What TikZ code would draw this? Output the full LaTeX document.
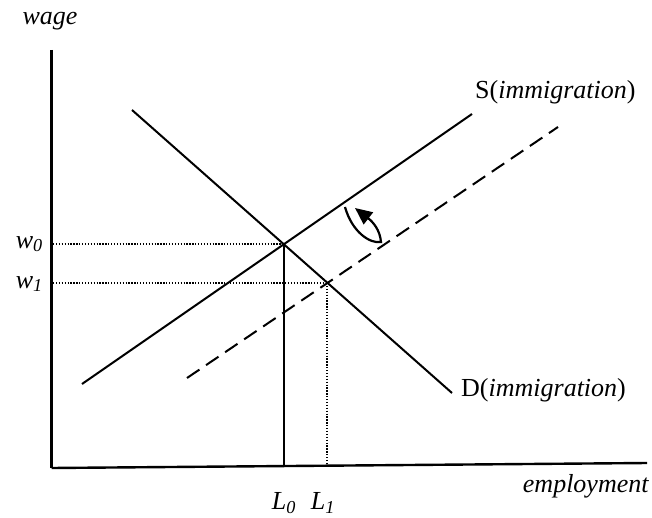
\documentclass[tikz,border=0pt]{standalone}
\usepackage{fontspec}
\setmainfont{Liberation Serif}
\usetikzlibrary{arrows.meta}
\begin{document}
\begin{tikzpicture}[x=1pt,y=-1pt,
  lbl/.style={inner sep=0pt,font=\fontsize{26}{30}\selectfont},
  curve/.style={line width=2pt},
  axis/.style={line width=2.4pt},
  guide/.style={line width=1.3pt,dash pattern=on 1.3pt off 1.6pt},
  shifted/.style={line width=2pt,dash pattern=on 15pt off 8pt}]
\useasboundingbox (0,0) rectangle (652,518);
% key points
\coordinate (O) at (51.5,468);
\coordinate (Ytop) at (51.5,50);
\coordinate (Xend) at (647,463);
\coordinate (E0) at (284,244);
\coordinate (E1) at (327,283);
\coordinate (Sa) at (82,384);
\coordinate (Sb) at (472,114);
\coordinate (Da) at (132,110);
\coordinate (Db) at (452,393);
\coordinate (Ta) at (187,378);
\coordinate (Tb) at (558,127);
\coordinate (W0) at (53,244);
\coordinate (W1) at (53,283);
\coordinate (L0b) at (284,466);
\coordinate (L1b) at (327,465);
% axes
\draw[axis,line width=3.2pt] (Ytop) -- (O);
\draw[axis] (O) -- (Xend);
% curves
\draw[curve] (Sa) -- (Sb);
\draw[curve] (Da) -- (Db);
\draw[shifted] (Ta) -- (Tb);
% guides
\draw[guide] (W0) -- (E0);
\draw[guide] (W1) -- (E1);
\draw[curve] (E0) -- (L0b);
\draw[guide] (E1) -- (L1b);
% rotation arrow
\coordinate (Ra) at (345,207);
\coordinate (Rb) at (381,242);
\coordinate (Rc) at (355,208);
\draw[line width=2.2pt,-{Triangle[length=17pt,width=15pt]}]
  (Ra) .. controls (352,232) and (370,244) .. (Rb)
       .. controls (380,230) and (373,222) .. (Rc);
% labels
\node[lbl] (wage) at (50,21) {\textit{wage}};
\node[lbl,anchor=east] (w0) at (43,244) {\textit{w}\textsubscript{\textit{0}}};
\node[lbl,anchor=east] (w1) at (43,284) {\textit{w}\textsubscript{\textit{1}}};
\node[lbl] (l0) at (284,503) {\textit{L}\textsubscript{\textit{0}}};
\node[lbl] (l1) at (323,503) {\textit{L}\textsubscript{\textit{1}}};
\node[lbl] (emp) at (586,486) {\textit{employment}};
\node[lbl,anchor=west] (slab) at (475,92) {S(\textit{immigration})};
\node[lbl,anchor=west] (dlab) at (461,390) {D(\textit{immigration})};
\end{tikzpicture}
\end{document}
